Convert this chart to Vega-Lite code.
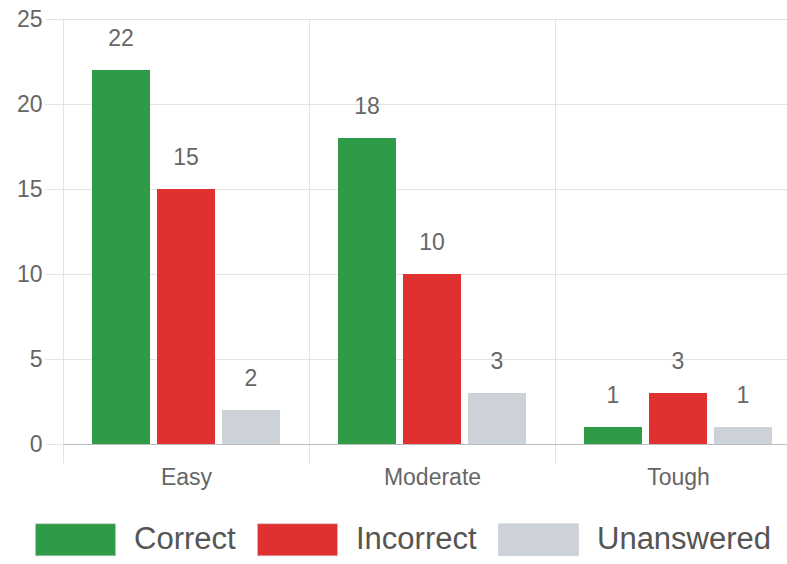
{
  "$schema": "https://vega.github.io/schema/vega-lite/v6.json",
  "autosize": "none",
  "width": 738,
  "height": 425,
  "padding": {"left": 63, "top": 19, "right": 0, "bottom": 120},
  "background": "white",
  "config": {
    "font": "Liberation Sans",
    "view": {"stroke": null}
  },
  "data": {
    "values": [
      {"level": "Easy", "type": "Correct", "count": 22},
      {"level": "Easy", "type": "Incorrect", "count": 15},
      {"level": "Easy", "type": "Unanswered", "count": 2},
      {"level": "Moderate", "type": "Correct", "count": 18},
      {"level": "Moderate", "type": "Incorrect", "count": 10},
      {"level": "Moderate", "type": "Unanswered", "count": 3},
      {"level": "Tough", "type": "Correct", "count": 1},
      {"level": "Tough", "type": "Incorrect", "count": 3},
      {"level": "Tough", "type": "Unanswered", "count": 1}
    ]
  },
  "encoding": {
    "x": {
      "field": "level", "type": "nominal", "sort": ["Easy", "Moderate", "Tough"],
      "scale": {"paddingInner": 0, "paddingOuter": 0},
      "axis": {
        "title": null, "labelAngle": 0, "labelFontSize": 23, "labelColor": "#666",
        "tickBand": "extent", "tickExtra": true, "tickSize": 19, "tickColor": "#e3e3e3",
        "grid": true, "gridColor": "#e3e3e3", "domainColor": "#bdbdbd", "labelPadding": 3
      }
    },
    "xOffset": {
      "field": "type", "type": "nominal", "sort": ["Correct", "Incorrect", "Unanswered"],
      "scale": {"paddingInner": 0.108, "paddingOuter": 0.446}
    },
    "y": {
      "field": "count", "type": "quantitative",
      "scale": {"domain": [0, 25], "nice": false},
      "axis": {
        "title": null, "values": [0, 5, 10, 15, 20, 25], "labelFontSize": 23, "labelColor": "#666",
        "tickSize": 18, "tickColor": "#e3e3e3", "gridColor": "#e3e3e3", "domain": false, "labelPadding": 3
      }
    }
  },
  "layer": [
    {
      "mark": {"type": "bar", "strokeWidth": 1},
      "encoding": {
        "color": {
          "field": "type", "type": "nominal",
          "scale": {"domain": ["Correct", "Incorrect", "Unanswered"], "range": ["#2f9b46", "#e03030", "#cdd2d9"]},
          "legend": {
            "title": null, "orient": "none", "direction": "horizontal",
            "legendX": -28, "legendY": 480,
            "symbolType": "M-1,-0.4H1V0.4H-1Z", "symbolSize": 6400,
            "symbolStrokeColor": "#c4c9d0", "symbolStrokeWidth": 0.5,
            "labelFontSize": 31, "labelColor": "#555", "labelOffset": 18,
            "columnPadding": 20, "labelLimit": 300
          }
        }
      }
    },
    {
      "mark": {"type": "text", "dy": -31, "baseline": "middle", "fontSize": 23, "color": "#666"},
      "encoding": {"text": {"field": "count", "type": "quantitative"}}
    }
  ]
}
